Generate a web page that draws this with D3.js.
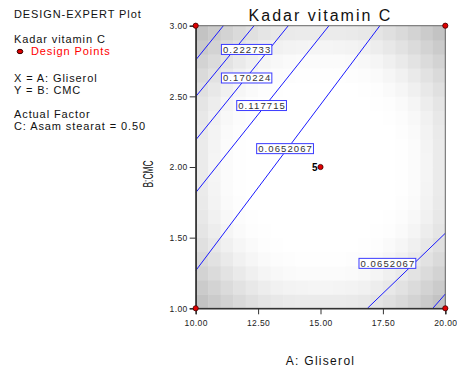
<!DOCTYPE html>
<html>
<head>
<meta charset="utf-8">
<script src="https://cdn.jsdelivr.net/npm/d3@7"></script>
<style>
  body { margin: 0; background: #fff; }
  text { font-family: "Liberation Sans", Arial, sans-serif; }
</style>
</head>
<body>
<div id="chart"></div>
<script>
// values
var xTicks = [10, 12.5, 15, 17.5, 20];
var yTicks = [1, 1.5, 2, 2.5, 3];

// contour lines: level, two end points [A, B]
var contourLevels = [0.275242, 0.222733, 0.170224, 0.117715, 0.0652067, 0.0652067, 0.117715];
var contourStart = [[11.11, 3], [12.34, 3], [13.71, 3], [15.34, 3], [17.38, 3], [16.88, 1], [19.50, 1]];
var contourEnd = [[10, 2.757], [10, 2.498], [10, 2.191], [10, 1.818], [10, 1.266], [20, 1.531], [20, 1.101]];

// contour labels
var labelText = ["0.222733", "0.170224", "0.117715", "0.0652067", "0.0652067"];
var labelPos = [[12.04, 2.832], [12.04, 2.630], [12.64, 2.435], [13.58, 2.13], [17.68, 1.318]];

// design points (A, B) and counts
var designPoints = [[10, 1], [20, 1], [10, 3], [20, 3], [15, 2]];
var designCounts = [1, 1, 1, 1, 5];

// background shading, one quadrant (row from edge, column from corner), mirrored
var shadeQuadrant = [
  [60, 52, 44, 37, 31, 26, 23, 21, 20, 20],
  [52, 44, 36, 29, 23, 18, 14, 12, 11, 10],
  [44, 36, 28, 21, 15, 10, 7, 5, 4, 4],
  [37, 29, 21, 14, 9, 5, 3, 2, 1, 1],
  [31, 23, 15, 9, 5, 2, 1, 0, 0, 0],
  [26, 18, 10, 5, 2, 1, 0, 0, 0, 0],
  [23, 14, 7, 3, 1, 0, 0, 0, 0, 0],
  [21, 12, 5, 2, 0, 0, 0, 0, 0, 0],
  [20, 11, 4, 1, 0, 0, 0, 0, 0, 0],
  [20, 10, 4, 1, 0, 0, 0, 0, 0, 0]
];

var infoLines = ["DESIGN-EXPERT Plot", "Kadar vitamin C", "Design Points", "X = A: Gliserol", "Y = B: CMC", "Actual Factor", "C: Asam stearat = 0.50"];

var width = 457, height = 371;

var svg = d3.select("#chart").append("svg")
    .attr("width", width)
    .attr("height", height);

var x = d3.scaleLinear().domain([10, 20]).range([195.7, 445.3]);
var y = d3.scaleLinear().domain([1, 3]).range([308.3, 25.7]);

var shade = d3.scaleLinear().domain([0, 60]).range(["#ffffff", "#c3c3c3"]);

// build full 20x20 grid from the quadrant
var n = 20, cells = [];
for (var r = 0; r < n; r++) {
  for (var c = 0; c < n; c++) {
    var qr = r < 10 ? r : n - 1 - r;
    var qc = c < 10 ? c : n - 1 - c;
    cells.push({c: c, r: r, v: shadeQuadrant[qr][qc]});
  }
}
var cw = 10 / n, ch = 2 / n;

var plot = svg.append("g");

plot.selectAll("rect.cell")
    .data(cells)
    .join("rect")
    .attr("class", "cell")
    .attr("x", d => x(10 + d.c * cw))
    .attr("y", d => y(1 + (d.r + 1) * ch))
    .attr("width", x(10 + cw) - x(10) + 0.5)
    .attr("height", y(1) - y(1 + ch) + 0.5)
    .attr("fill", d => shade(d.v));

// contour lines
plot.selectAll("line.contour")
    .data(contourLevels)
    .join("line")
    .attr("class", "contour")
    .attr("x1", (d, i) => x(contourStart[i][0]))
    .attr("y1", (d, i) => y(contourStart[i][1]))
    .attr("x2", (d, i) => x(contourEnd[i][0]))
    .attr("y2", (d, i) => y(contourEnd[i][1]))
    .attr("stroke", "#1a1aff")
    .attr("stroke-width", 1);

// contour labels
var lab = plot.selectAll("g.lab")
    .data(labelText)
    .join("g")
    .attr("class", "lab")
    .attr("transform", (d, i) => `translate(${x(labelPos[i][0])},${y(labelPos[i][1])})`);

lab.append("text")
    .attr("x", 0.5)
    .attr("text-anchor", "middle")
    .attr("dy", "0.36em")
    .style("font-size", "9.5px")
    .style("letter-spacing", "1.1px")
    .attr("fill", "#333")
    .text(d => d);

lab.each(function() {
  var g = d3.select(this);
  var bb = g.select("text").node().getBBox();
  g.insert("rect", "text")
    .attr("x", bb.x - 1.5)
    .attr("y", -5)
    .attr("width", bb.width + 2)
    .attr("height", 10)
    .attr("fill", "#fff")
    .attr("stroke", "#3b3bff")
    .attr("stroke-width", 1);
});

// frame
plot.append("rect")
    .attr("x", x(10))
    .attr("y", y(3))
    .attr("width", x(20) - x(10))
    .attr("height", y(1) - y(3))
    .attr("fill", "none")
    .attr("stroke", "#666")
    .attr("stroke-width", 1);

// axes
var xAxis = g => g
    .attr("transform", `translate(0,${y(1)})`)
    .call(d3.axisBottom(x).tickValues(xTicks).tickFormat(d3.format(".2f")).tickSize(6).tickPadding(6))
    .call(g => g.select(".domain").attr("stroke", "#333").attr("stroke-width", 1.5))
    .call(g => g.selectAll(".tick line").attr("stroke", "#333"))
    .call(g => g.selectAll(".tick text").style("font-size", "8.5px").style("letter-spacing", "0.4px").attr("fill", "#222"));

var yAxis = g => g
    .attr("transform", `translate(${x(10)},0)`)
    .call(d3.axisLeft(y).tickValues(yTicks).tickFormat(d3.format(".2f")).tickSize(6).tickPadding(2))
    .call(g => g.select(".domain").attr("stroke", "#333").attr("stroke-width", 1.5))
    .call(g => g.selectAll(".tick line").attr("stroke", "#333"))
    .call(g => g.selectAll(".tick text").style("font-size", "8.5px").style("letter-spacing", "0.4px").attr("fill", "#222"));

svg.append("g").call(xAxis);
svg.append("g").call(yAxis);

// design points
svg.selectAll("circle.dp")
    .data(designPoints)
    .join("circle")
    .attr("class", "dp")
    .attr("cx", d => x(d[0]))
    .attr("cy", d => y(d[1]))
    .attr("r", 2.6)
    .attr("fill", "#e00000")
    .attr("stroke", "#400000")
    .attr("stroke-width", 0.8);

svg.selectAll("text.cnt")
    .data(designPoints.filter((d, i) => designCounts[i] > 1))
    .join("text")
    .attr("class", "cnt")
    .attr("x", d => x(d[0]) - 3)
    .attr("y", d => y(d[1]) + 3.5)
    .attr("text-anchor", "end")
    .style("font-size", "10px")
    .style("font-weight", "bold")
    .text((d, i) => designCounts[designPoints.indexOf(d)]);

// title and axis titles
svg.append("text")
    .attr("x", x(15))
    .attr("y", 21)
    .attr("text-anchor", "middle")
    .style("font-size", "16px")
    .style("letter-spacing", "2px")
    .attr("fill", "#111")
    .text("Kadar vitamin C");

svg.append("text")
    .attr("x", x(15))
    .attr("y", 365)
    .attr("text-anchor", "middle")
    .style("font-size", "12px")
    .style("letter-spacing", "1.3px")
    .attr("fill", "#111")
    .text("A: Gliserol");

svg.append("text")
    .attr("transform", `translate(152.5,174) rotate(-90)`)
    .attr("text-anchor", "middle")
    .attr("textLength", 27)
    .attr("lengthAdjust", "spacingAndGlyphs")
    .style("font-size", "14px")
    .attr("fill", "#111")
    .text("B:CMC");

// info block on the left
var infoY = [18, 43, 55, 82, 94, 118, 130];
svg.selectAll("text.info")
    .data(infoLines)
    .join("text")
    .attr("class", "info")
    .attr("x", (d, i) => i == 2 ? 31 : 14)
    .attr("y", (d, i) => infoY[i])
    .style("font-size", "11px")
    .style("letter-spacing", "0.9px")
    .attr("fill", (d, i) => i == 2 ? "#ff0000" : "#111")
    .text(d => d);

svg.append("ellipse")
    .attr("cx", 20)
    .attr("cy", 51.5)
    .attr("rx", 2.8)
    .attr("ry", 2.2)
    .attr("fill", "#e00000")
    .attr("stroke", "#300000")
    .attr("stroke-width", 1);
</script>
</body>
</html>
